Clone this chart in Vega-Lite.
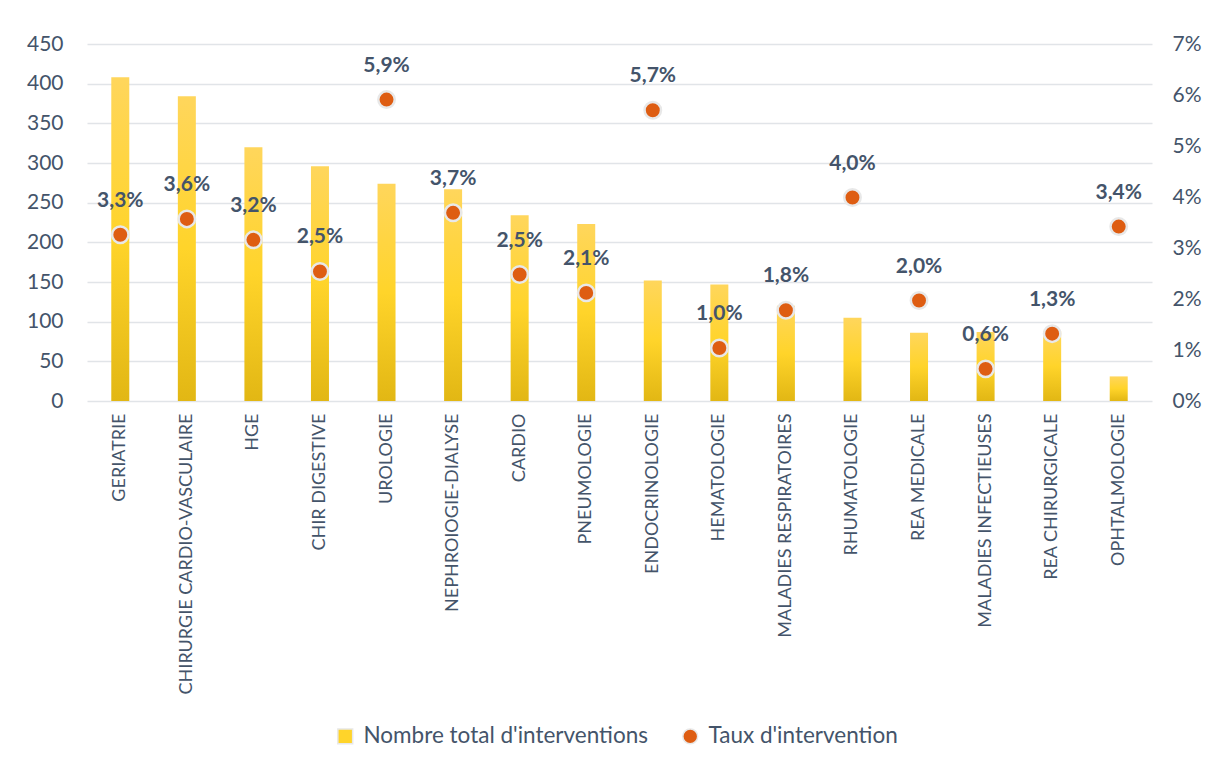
{
  "$schema": "https://vega.github.io/schema/vega-lite/v6.json",
  "width": 1065,
  "height": 357,
  "autosize": {"type": "none"},
  "padding": {"left": 87, "top": 44, "right": 57, "bottom": 363},
  "background": "white",
  "config": {
    "locale": {"number": {"decimal": ",", "thousands": " ", "grouping": [3], "currency": ["", " €"]}},
    "view": {"stroke": null},
    "font": "Lato",
    "axis": {"domain": false, "ticks": false, "labelColor": "#44546A", "labelFont": "Lato", "gridColor": "#E1E4E8", "gridWidth": 1.5, "title": null}
  },
  "data": {
    "values": [
      {"service": "GERIATRIE", "nombre": 408, "taux": 0.0326},
      {"service": "CHIRURGIE CARDIO-VASCULAIRE", "nombre": 384, "taux": 0.0357},
      {"service": "HGE", "nombre": 320, "taux": 0.0316},
      {"service": "CHIR DIGESTIVE", "nombre": 296, "taux": 0.0254},
      {"service": "UROLOGIE", "nombre": 274, "taux": 0.0591},
      {"service": "NEPHROIOGIE-DIALYSE", "nombre": 267, "taux": 0.0369},
      {"service": "CARDIO", "nombre": 234, "taux": 0.0248},
      {"service": "PNEUMOLOGIE", "nombre": 223, "taux": 0.0212},
      {"service": "ENDOCRINOLOGIE", "nombre": 152, "taux": 0.057},
      {"service": "HEMATOLOGIE", "nombre": 147, "taux": 0.0104},
      {"service": "MALADIES RESPIRATOIRES", "nombre": 120, "taux": 0.0178},
      {"service": "RHUMATOLOGIE", "nombre": 105, "taux": 0.0399},
      {"service": "REA MEDICALE", "nombre": 86, "taux": 0.0197},
      {"service": "MALADIES INFECTIEUSES", "nombre": 87, "taux": 0.0063},
      {"service": "REA CHIRURGICALE", "nombre": 88, "taux": 0.0132},
      {"service": "OPHTALMOLOGIE", "nombre": 31, "taux": 0.0342}
    ]
  },
  "encoding": {
    "x": {
      "field": "service", "type": "nominal", "sort": null,
      "scale": {"paddingInner": 0, "paddingOuter": 0},
      "axis": {"labelAngle": -90, "labelAlign": "right", "labelBaseline": "middle", "labelPadding": 12, "labelFontSize": 18, "labelLimit": 400, "grid": false}
    }
  },
  "layer": [
    {
      "mark": {"type": "bar", "size": 18,
        "color": {"gradient": "linear", "x1": 0, "y1": 0, "x2": 0, "y2": 1, "stops": [{"offset": 0, "color": "#FFD65C"}, {"offset": 0.5, "color": "#FFD42A"}, {"offset": 1, "color": "#E2B714"}]}},
      "encoding": {
        "y": {"field": "nombre", "type": "quantitative", "scale": {"domain": [0, 450]},
          "axis": {"values": [0, 50, 100, 150, 200, 250, 300, 350, 400, 450], "labelFontSize": 21, "labelPadding": 24, "grid": true}}
      }
    },
    {
      "mark": {"type": "point", "filled": true, "size": 270, "stroke": "#E8E8E8", "strokeWidth": 2.5, "opacity": 1},
      "encoding": {
        "y": {"field": "taux", "type": "quantitative", "scale": {"domain": [0, 0.07]},
          "axis": {"orient": "right", "format": ".0%", "values": [0, 0.01, 0.02, 0.03, 0.04, 0.05, 0.06, 0.07], "labelFontSize": 21, "labelPadding": 20, "grid": false}},
        "color": {"datum": "Taux d'intervention", "type": "nominal",
          "scale": {"domain": ["Nombre total d'interventions", "Taux d'intervention"], "range": ["#FFD42A", "#DE5D12"]},
          "legend": {
            "orient": "none", "legendX": 247, "legendY": 681, "direction": "horizontal", "title": null,
            "labelFontSize": 22.5, "labelColor": "#44546A", "labelFont": "Lato", "labelLimit": 500, "symbolSize": 220, "columnPadding": 30, "labelOffset": 7
          }
        },
        "shape": {"datum": "Taux d'intervention", "type": "nominal",
          "scale": {"domain": ["Nombre total d'interventions", "Taux d'intervention"], "range": ["square", "circle"]},
          "legend": {
            "orient": "none", "legendX": 247, "legendY": 681, "direction": "horizontal", "title": null,
            "labelFontSize": 22.5, "labelColor": "#44546A", "labelFont": "Lato", "labelLimit": 500, "symbolSize": 220, "columnPadding": 30, "labelOffset": 7
          }
        }
      }
    },
    {
      "mark": {"type": "text", "dy": -34, "fontSize": 21, "fontWeight": "bold", "color": "#44546A", "font": "Lato"},
      "encoding": {
        "y": {"field": "taux", "type": "quantitative", "scale": {"domain": [0, 0.07]}, "axis": null},
        "text": {"field": "taux", "type": "quantitative", "format": ".1%"}
      }
    }
  ],
  "resolve": {"scale": {"y": "independent"}}
}
